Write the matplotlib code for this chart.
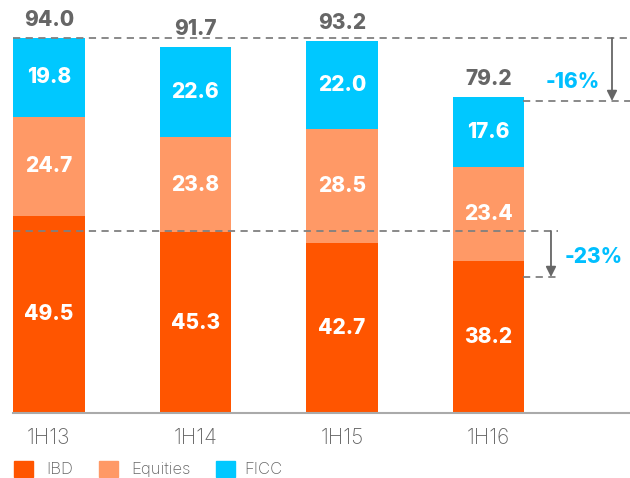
import matplotlib
matplotlib.use("Agg")
import matplotlib.pyplot as plt
from matplotlib.patches import Rectangle

categories = ["1H13", "1H14", "1H15", "1H16"]
ibd = [49.5, 45.3, 42.7, 38.2]
equities = [24.7, 23.8, 28.5, 23.4]
ficc = [19.8, 22.6, 22.0, 17.6]
totals = [94.0, 91.7, 93.2, 79.2]
series_names = ["IBD", "Equities", "FICC"]
pct_total = "-16%"
pct_ibd = "-23%"

C_IBD = "#FF5500"
C_EQ = "#FF9966"
C_FICC = "#00C8FF"
GRAY = "#666666"
DASH = "#808080"
CYAN = "#00BFFF"

plt.rcParams["font.family"] = ["Inter", "DejaVu Sans"]

W, H = 630, 478
fig = plt.figure(figsize=(W / 100, H / 100), dpi=100)
ax = fig.add_axes([13 / W, (H - 413) / H, 1 - 13 / W, 413 / H])
px_per_unit = 375 / 94.0
ax.set_ylim(0, 413 / px_per_unit)
ax.set_xlim(-0.245, (630 - 49) / 146.5)

x = list(range(len(categories)))
width = 0.49
ax.bar(x, ibd, width, color=C_IBD, zorder=2)
bottom2 = ibd
ax.bar(x, equities, width, bottom=bottom2, color=C_EQ, zorder=2)
bottom3 = [a + b for a, b in zip(ibd, equities)]
ax.bar(x, ficc, width, bottom=bottom3, color=C_FICC, zorder=2)

lab_kw = dict(ha="center", va="center", color="white", fontsize=15, fontweight="heavy", zorder=4)
for i in x:
    ax.text(i, ibd[i] / 2, f"{ibd[i]:.1f}", **lab_kw)
    ax.text(i, bottom2[i] + equities[i] / 2, f"{equities[i]:.1f}", **lab_kw)
    ax.text(i, bottom3[i] + ficc[i] / 2, f"{ficc[i]:.1f}", **lab_kw)
    top = bottom3[i] + ficc[i]
    ax.annotate(f"{totals[i]:.1f}", (i, top), xytext=(0, 6), textcoords="offset points",
                ha="center", va="bottom", color=GRAY, fontsize=15, fontweight="heavy")

for s in ["top", "right", "left"]:
    ax.spines[s].set_visible(False)
ax.spines["bottom"].set_color("#AAAAAA")
ax.spines["bottom"].set_linewidth(1.5)
ax.set_yticks([])
ax.set_xticks(x)
ax.set_xticklabels(categories, color=GRAY, fontsize=15, fontweight="light")
ax.tick_params(axis="x", length=0, pad=11)

def yv(py):
    return (413 - py) / px_per_unit

def xv(px):
    return (px - 49) / 146.5

dash_kw = dict(color=DASH, lw=1.3, ls=(0, (4, 3)), zorder=3)
ax.plot([xv(13), xv(630)], [yv(38), yv(38)], **dash_kw)
ax.plot([xv(523), xv(630)], [yv(101), yv(101)], **dash_kw)
ax.plot([xv(13), xv(558)], [yv(231), yv(231)], **dash_kw)
ax.plot([xv(523), xv(558)], [yv(277), yv(277)], **dash_kw)

arrow_kw = dict(arrowstyle="-|>,head_length=0.6,head_width=0.3", color=GRAY, lw=1.3, shrinkA=0, shrinkB=0)
ax.annotate("", xy=(xv(612), yv(101)), xytext=(xv(612), yv(38)), arrowprops=arrow_kw)
ax.annotate("", xy=(xv(551), yv(277)), xytext=(xv(551), yv(231)), arrowprops=arrow_kw)

ax.text(xv(573), yv(82), pct_total, color=CYAN, fontsize=15, fontweight="heavy", ha="center", va="center")
ax.text(xv(594), yv(257), pct_ibd, color=CYAN, fontsize=15, fontweight="heavy", ha="center", va="center")

# legend drawn manually in figure pixels
leg_sq_x = [14, 99, 216]
leg_tx_x = [46, 131, 244]
for name, col, sx, tx in zip(series_names, [C_IBD, C_EQ, C_FICC], leg_sq_x, leg_tx_x):
    fig.patches.append(Rectangle((sx / W, (H - 477) / H), 19 / W, 16 / H, transform=fig.transFigure,
                                 color=col, figure=fig))
    fig.text(tx / W, (H - 474) / H, name, color=GRAY, fontsize=12, fontweight="light",
             ha="left", va="baseline")

fig.savefig("out.png", dpi=100)
